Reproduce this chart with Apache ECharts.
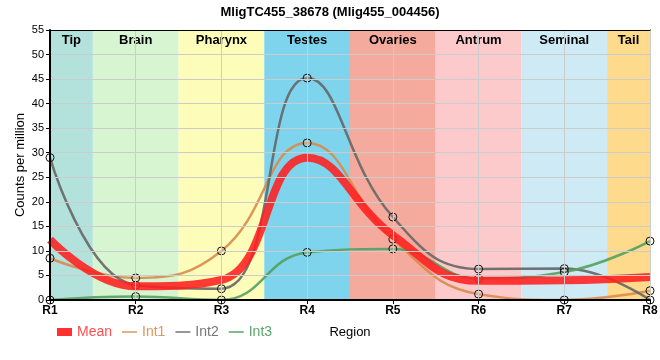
<!DOCTYPE html>
<html><head><meta charset="utf-8">
<script src="https://cdn.jsdelivr.net/npm/echarts@6/dist/echarts.min.js"></script>
<style>html,body{margin:0;padding:0;background:#fff}#c{width:660px;height:360px}</style>
</head><body><div id="c"></div>
<script>
const categories = ['R1','R2','R3','R4','R5','R6','R7','R8'];
const meanValues = [12.3, 2.8, 4.1, 29.0, 13.2, 3.9, 4.0, 4.7];
const int1Values = [8.5, 4.5, 10.0, 32.0, 12.4, 1.2, 0.0, 1.9];
const int2Values = [29.0, 3.0, 2.3, 45.2, 16.9, 6.3, 6.4, 0.0];
const int3Values = [0.0, 0.7, 0.0, 9.7, 10.4, 4.4, 5.7, 12.0];
const bandNames = ['Tip','Brain','Pharynx','Testes','Ovaries','Antrum','Seminal','Tail'];
const bandStarts = [0, 0.5, 1.5, 2.5, 3.5, 4.5, 5.5, 6.5];
const bandEnds = [0.5, 1.5, 2.5, 3.5, 4.5, 5.5, 6.5, 7];
const bandColors = ['#b3e2dc','#d7f5d0','#fdfdb9','#7ed4ec','#f4ab9d','#fdcacb','#cdeaf5','#fdda8c'];
const yTicks = {min: 0, max: 55, interval: 5};

const chart = echarts.init(document.getElementById('c'), null, {renderer: 'canvas'});
const font = 'Liberation Sans, Arial, sans-serif';
const marker = {symbol: 'circle', symbolSize: 8, itemStyle: {color: 'rgba(255,255,255,0.15)', borderColor: '#111', borderWidth: 1}};
function lineSeries(name, data, color, width) {
  return Object.assign({
    name, type: 'line', data, smooth: 0.45, z: 3,
    lineStyle: {color, width, opacity: 0.9},
    emphasis: {disabled: true}
  }, marker);
}
const thinIcon = 'path://M0,0Z M0,3.2H16V4.8H0Z M16,8Z';
chart.setOption({
  animation: false,
  title: {text: 'MligTC455_38678 (Mlig455_004456)', left: 'center', top: 1,
    textStyle: {fontFamily: font, fontSize: 13, fontWeight: 'bold', color: '#000'}},
  grid: {left: 50, right: 10, top: 30, bottom: 60, outerBoundsMode: 'none', containLabel: false},
  legend: {
    left: 52, top: 320, itemWidth: 15, itemHeight: 8, itemGap: 10, symbolKeepAspect: false,
    textStyle: {fontFamily: font, fontSize: 14},
    data: [
      {name: 'Mean', icon: 'rect', itemStyle: {color: '#ff3030', borderWidth: 0}, textStyle: {color: '#ff4f4f'}},
      {name: 'Int1', icon: thinIcon, itemStyle: {color: '#e0965c', borderWidth: 0}, textStyle: {color: '#e0965c'}},
      {name: 'Int2', icon: thinIcon, itemStyle: {color: '#777777', borderWidth: 0}, textStyle: {color: '#777777'}},
      {name: 'Int3', icon: thinIcon, itemStyle: {color: '#5aa66a', borderWidth: 0}, textStyle: {color: '#5aa66a'}}
    ]
  },
  xAxis: [{
    type: 'category', data: categories, boundaryGap: false,
    name: 'Region', nameLocation: 'middle', nameGap: 26,
    nameTextStyle: {fontFamily: font, fontSize: 13, color: '#000'},
    axisLine: {lineStyle: {color: '#000', width: 2}},
    axisTick: {show: true, length: 4, lineStyle: {color: '#000'}},
    axisLabel: {fontFamily: font, fontSize: 12, fontWeight: 'bold', color: '#000', margin: 5},
    splitLine: {show: true, lineStyle: {color: '#cccccc', width: 1}}, z: 5
  }, {
    type: 'value', min: 0, max: 7, position: 'top', show: true,
    axisLine: {show: true, onZero: false, lineStyle: {color: '#000', width: 1}},
    axisTick: {show: false}, axisLabel: {show: false}, splitLine: {show: false}, z: 5
  }],
  yAxis: [{
    type: 'value', min: yTicks.min, max: yTicks.max, interval: yTicks.interval,
    name: 'Counts per million', nameLocation: 'middle', nameGap: 23, nameMoveOverlap: false,
    nameTextStyle: {fontFamily: font, fontSize: 13, color: '#000'},
    axisLine: {show: true, lineStyle: {color: '#000', width: 2}},
    axisTick: {show: true, length: 4, lineStyle: {color: '#000'}},
    axisLabel: {fontFamily: font, fontSize: 11, color: '#000', margin: 6},
    splitLine: {show: true, lineStyle: {color: '#cccccc', width: 1}}, z: 5
  }, {
    type: 'value', min: yTicks.min, max: yTicks.max, interval: yTicks.interval, position: 'right',
    axisLine: {show: true, lineStyle: {color: '#000', width: 1}},
    axisTick: {show: false}, axisLabel: {show: false}, splitLine: {show: false}
  }],
  series: [
    {
      name: 'bands', type: 'line', xAxisIndex: 1, yAxisIndex: 0, data: [], silent: true, z: 1,
      markArea: {
        silent: true, z: 1,
        label: {show: true, position: 'insideTop', distance: 4, fontFamily: font, fontSize: 13, fontWeight: 'bold', color: '#000'},
        data: bandNames.map((n, i) => [
          {name: n, xAxis: bandStarts[i], itemStyle: {color: bandColors[i], opacity: 1}},
          {xAxis: bandEnds[i]}
        ])
      }
    },
    Object.assign(lineSeries('Mean', meanValues, '#ff2020', 8), {symbol: 'none', z: 4, lineStyle: {color: '#ff1f1f', width: 8, opacity: 0.88}}),
    lineSeries('Int1', int1Values, '#d98b4e', 2.5),
    lineSeries('Int2', int2Values, '#666666', 2.5),
    lineSeries('Int3', int3Values, '#55a060', 2.5)
  ]
});
</script></body></html>
